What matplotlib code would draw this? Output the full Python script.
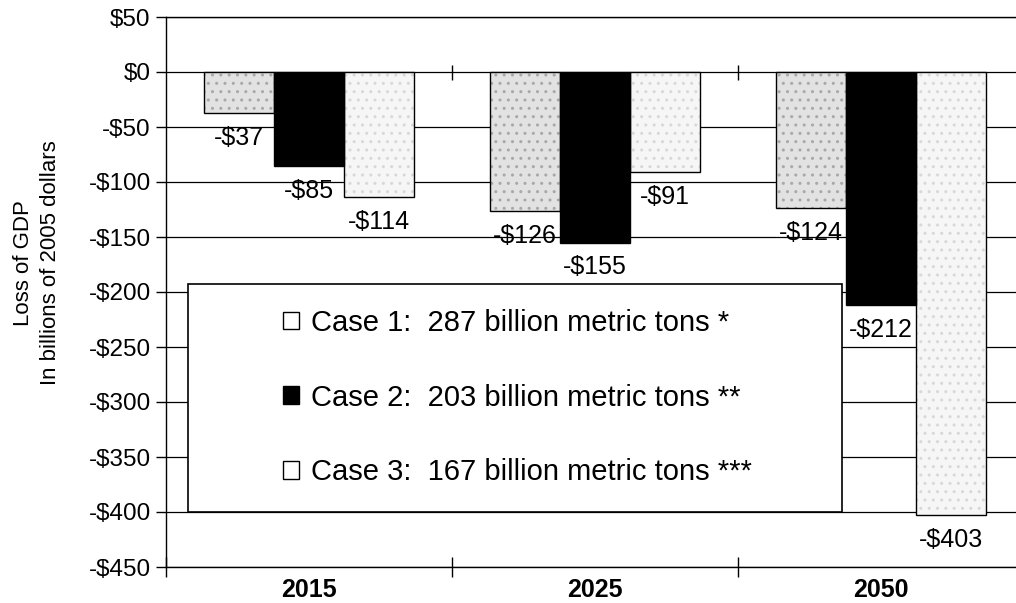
import matplotlib
matplotlib.use("Agg")

import numpy as np
import matplotlib.pyplot as plt
import matplotlib.patches as patches
from matplotlib.ticker import FuncFormatter, FixedLocator

plt.rcParams["font.family"] = ["Liberation Sans", "DejaVu Sans"]

# ======================
# Data
# ======================
years = ["2015", "2025", "2050"]
case_labels = [
    "Case 1:  287 billion metric tons *",
    "Case 2:  203 billion metric tons **",
    "Case 3:  167 billion metric tons ***",
]
case1 = [-37, -126, -124]
case2 = [-85, -155, -212]
case3 = [-114, -91, -403]
y_ticks = list(range(50, -451, -50))

# ======================
# Styling
# ======================
series = [case1, case2, case3]
faces = ["#e2e2e2", "black", "#f6f6f6"]
hatch_cols = ["#a8a8a8", "black", "#d8d8d8"]
bar_w = 0.245


def money(v, _pos=None):
    return f"-${-v:.0f}" if v < 0 else f"${v:.0f}"


fig = plt.figure(figsize=(10.16, 6.03), dpi=100)
ax = fig.add_axes([166 / 1016, 36 / 603, 858 / 1016, 550 / 603])

x = np.arange(len(years)) + 0.5
handles = []
for i, vals in enumerate(series):
    xs = x + (i - 1) * bar_w
    # stipple texture, then crisp black outline
    ax.bar(xs, vals, bar_w, color=faces[i], edgecolor=hatch_cols[i],
           hatch=".." if i != 1 else None, linewidth=0, zorder=2)
    ax.bar(xs, vals, bar_w, fill=False, edgecolor="black", linewidth=1.0, zorder=3)
    handles.append(patches.Patch(facecolor=faces[i] if i == 1 else "white",
                                 edgecolor="black", linewidth=1.0))
    for xi, v in zip(xs, vals):
        ax.annotate(money(v), (xi, v), xytext=(0, -18), textcoords="offset points",
                    ha="center", va="center", fontsize=18, zorder=7)

ax.set_xlim(0, 3)
ax.set_ylim(-450, 50)
ax.yaxis.set_major_locator(FixedLocator(y_ticks))
ax.yaxis.set_major_formatter(FuncFormatter(money))
ax.yaxis.grid(True, color="black", linewidth=0.9)
ax.set_axisbelow(True)

ax.xaxis.set_major_locator(FixedLocator([0, 1, 2, 3]))
ax.xaxis.set_major_formatter(FuncFormatter(lambda v, p: ""))
ax.xaxis.set_minor_locator(FixedLocator(x))
ax.set_xticklabels(years, minor=True, fontsize=18, fontweight="bold")
ax.tick_params(axis="x", which="major", direction="inout", length=14, width=1)
ax.tick_params(axis="x", which="minor", length=0, pad=8)
ax.tick_params(axis="y", direction="out", length=7, width=1, labelsize=17.5, pad=4)

# category separators crossing the zero line
ax.vlines([1, 2], -7, 6, color="black", linewidth=1, zorder=3)

for s in ["left", "bottom", "top"]:
    ax.spines[s].set_linewidth(1)
ax.spines["right"].set_visible(False)

# legend box sitting inside the plot area
ax.add_patch(patches.Rectangle((0.077, -400), 2.287, 207, facecolor="white",
                               edgecolor="black", linewidth=1.2, zorder=4))
ax.legend(handles, case_labels, loc="center left", bbox_to_anchor=(0.409, -296),
          bbox_transform=ax.transData, frameon=False, fontsize=21, borderpad=0,
          borderaxespad=0, handlelength=0.55, handleheight=0.55, handletextpad=0.4,
          labelspacing=1.6)

fig.text(37 / 1016, 1 - 263 / 603, "Loss of GDP\nIn billions of 2005 dollars",
         rotation=90, ha="center", va="center", fontsize=16, linespacing=1.4,
         multialignment="center")

fig.savefig("out.png", dpi=100)
plt.close(fig)
